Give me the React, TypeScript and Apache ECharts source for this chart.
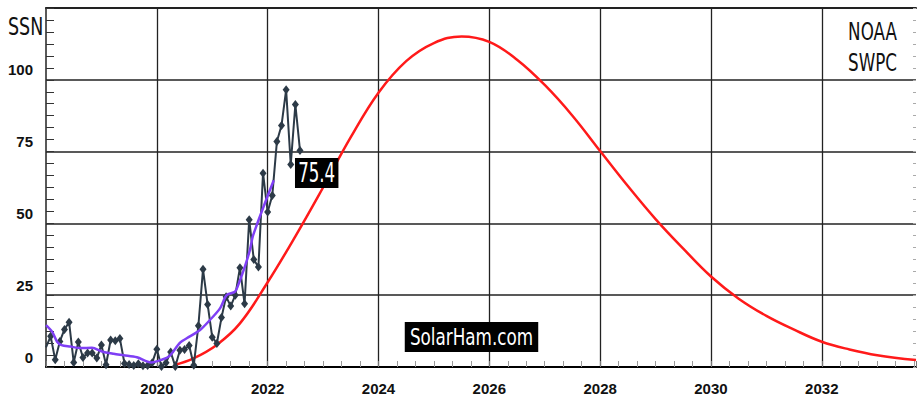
import React, { useEffect, useRef } from "react";
import * as echarts from "echarts";

// Monthly sunspot numbers, starting January 2018
const ssnStartYear = 2018;
const monthlySSN = [
  6.8, 10.7, 2.5, 8.9, 13.1, 15.6, 1.6, 8.7, 3.3, 4.9, 4.9, 3.1,
  7.7, 0.8, 9.4, 9.1, 9.9, 1.2, 0.9, 0.5, 1.1, 0.4, 0.5, 1.5,
  6.2, 0.2, 1.5, 5.2, 0.2, 5.8, 6.1, 7.5, 0.6, 14.4, 34.0, 21.8,
  10.4, 8.2, 17.2, 24.5, 21.2, 25.0, 34.6, 22.0, 51.3, 37.4, 34.8, 67.5,
  54.0, 59.7, 78.5, 84.1, 96.5, 70.5, 91.4, 75.4,
];

// Smoothed sunspot number (purple)
const smoothYears = [
  2018.0, 2018.11, 2018.2, 2018.28, 2018.44, 2018.62, 2018.83, 2019.01, 2019.22,
  2019.4, 2019.64, 2019.9, 2020.1, 2020.23, 2020.42, 2020.54, 2020.78, 2020.96,
  2021.14, 2021.26, 2021.41, 2021.47, 2021.59, 2021.68, 2021.74, 2022.11,
];
const smoothValues = [
  14.6, 12.3, 8.8, 7.6, 7.1, 6.6, 6.7, 5.4, 4.6,
  4.1, 3.4, 1.6, 2.6, 3.9, 8.5, 10, 12.9, 16.4,
  20.4, 25, 26.2, 28.6, 35, 40.8, 46, 65,
];

// NOAA SWPC predicted cycle (red)
const predYears = [
  2020.32, 2020.66, 2021.08, 2021.5, 2022.0, 2022.5, 2023.0, 2023.5,
  2024.0, 2024.5, 2025.0, 2025.5, 2026.0, 2026.5, 2027.0, 2027.5, 2028.0,
  2028.5, 2029.0, 2029.5, 2030.0, 2030.5, 2031.0, 2031.5, 2032.0, 2032.5, 2033.0, 2033.7,
];
const predValues = [
  0.7, 3, 7.7, 15.2, 29.5, 45.5, 62.5, 80,
  95.5, 106.5, 112.8, 115.1, 113.2, 107, 98.2, 87.5, 75.2,
  63, 51.5, 41.2, 31.5, 23.8, 17.8, 13, 8.8, 6.1, 4.1, 2.4,
];

const xTickYears = [2020, 2022, 2024, 2026, 2028, 2030, 2032];
const yTicks = [0, 25, 50, 75, 100];

const LABEL_FONT = "'Liberation Sans', Arial, sans-serif";
const TEXT_FONT = "'DejaVu Sans', sans-serif";

export default function App() {
  const ref = useRef<HTMLDivElement>(null);

  useEffect(() => {
    if (!ref.current) return;
    const chart = echarts.init(ref.current, undefined, { renderer: "svg" });

    const ssnData: any[] = monthlySSN.map((v, i) => {
      const item: any = { value: [ssnStartYear + i / 12, v] };
      if (i === 0) item.symbol = "none";
      return item;
    });

    const option: any = {
      animation: false,
      backgroundColor: "#fff",
      grid: { left: 46, right: 2, top: 8, bottom: 33 },
      xAxis: [
        {
          type: "value",
          min: 2018,
          max: 2033.7,
          interval: 2,
          axisLine: { show: true, onZero: false, lineStyle: { color: "#000", width: 2 } },
          axisTick: { show: true, inside: true, length: 6, lineStyle: { color: "#777" } },
          minorTick: { show: true, splitNumber: 6, length: 6, lineStyle: { color: "#999" } },
          axisLabel: {
            formatter: (v: number) => {
              const r = Math.round(v);
              return Math.abs(v - r) < 1e-6 && xTickYears.includes(r) ? String(r) : "";
            },
            fontFamily: LABEL_FONT,
            fontWeight: "bold",
            fontSize: 15,
            color: "#111",
            margin: 14,
            showMinLabel: false,
            showMaxLabel: false,
          },
          splitLine: {
            show: true,
            showMinLine: false,
            showMaxLine: false,
            lineStyle: { color: "#222", width: 1.3 },
          },
        },
        {
          type: "value",
          position: "top",
          min: 2018,
          max: 2033.7,
          axisLine: { show: true, onZero: false, lineStyle: { color: "#222", width: 2 } },
          axisTick: { show: false },
          axisLabel: { show: false },
          splitLine: { show: false },
        },
      ],
      yAxis: [
        {
          type: "value",
          min: 0,
          max: 125,
          interval: 25,
          axisLine: { show: true, lineStyle: { color: "#222", width: 1.5 } },
          axisTick: { show: true, inside: true, length: 8, lineStyle: { color: "#333" } },
          minorTick: { show: true, splitNumber: 6, length: 8, lineStyle: { color: "#333", width: 1 } },
          axisLabel: {
            formatter: (v: number) => (yTicks.includes(v) ? String(v) : ""),
            fontFamily: LABEL_FONT,
            fontWeight: "bold",
            fontSize: 15,
            color: "#111",
            margin: 13,
            verticalAlign: "bottom",
            lineHeight: 20,
            showMaxLabel: false,
          },
          splitLine: { show: true, lineStyle: { color: "#222", width: 1.5 } },
        },
        {
          type: "value",
          position: "right",
          min: 0,
          max: 125,
          interval: 25,
          axisLine: { show: false },
          axisTick: { show: true, inside: true, length: 3, lineStyle: { color: "#aaa" } },
          minorTick: { show: true, splitNumber: 6, length: 3, lineStyle: { color: "#aaa" } },
          axisLabel: { show: false },
          splitLine: { show: false },
        },
      ],
      series: [
        {
          name: "Predicted",
          type: "line",
          xAxisIndex: 0,
          yAxisIndex: 0,
          data: predYears.map((y, i) => [y, predValues[i]]),
          smooth: 0.4,
          showSymbol: false,
          symbol: "none",
          lineStyle: { color: "#ff1a1a", width: 2.5 },
          z: 2,
        },
        {
          name: "Monthly SSN",
          type: "line",
          xAxisIndex: 0,
          yAxisIndex: 0,
          data: ssnData,
          symbol: "diamond",
          symbolSize: [7, 9],
          itemStyle: { color: "#2c3a47" },
          lineStyle: { color: "#2c3a47", width: 2 },
          z: 3,
        },
        {
          name: "Smoothed",
          type: "line",
          xAxisIndex: 0,
          yAxisIndex: 0,
          data: smoothYears.map((y, i) => [y, smoothValues[i]]),
          smooth: 0.3,
          showSymbol: false,
          symbol: "none",
          lineStyle: { color: "#7f3ff5", width: 2.5 },
          z: 4,
        },
      ],
    };

    chart.setOption(option);

    // Label for the latest monthly value, placed through the chart's own scales
    const lastIdx = monthlySSN.length - 1;
    const lastVal = monthlySSN[lastIdx];
    const p = chart.convertToPixel({ gridIndex: 0 }, [ssnStartYear + lastIdx / 12, lastVal]) as number[];

    chart.setOption({
      graphic: [
        {
          type: "text",
          x: 8,
          y: 14,
          scaleX: 0.7,
          style: { text: "SSN", fontFamily: TEXT_FONT, fontSize: 25, fill: "#111", verticalAlign: "top" },
        },
        {
          type: "text",
          x: 872.5,
          y: 16,
          scaleX: 0.67,
          style: {
            text: "NOAA\nSWPC",
            fontFamily: TEXT_FONT,
            fontSize: 25,
            lineHeight: 31,
            fill: "#111",
            align: "center",
            verticalAlign: "top",
          },
        },
        {
          type: "text",
          x: 471.5,
          y: 337,
          scaleX: 0.73,
          z: 10,
          style: {
            text: "SolarHam.com",
            fontFamily: TEXT_FONT,
            fontSize: 23,
            lineHeight: 24,
            fill: "#fff",
            backgroundColor: "#000",
            padding: [3, 7, 3, 7],
            align: "center",
            verticalAlign: "middle",
          },
        },
        {
          type: "text",
          x: p[0] - 5,
          y: p[1] + 7.5,
          scaleX: 0.64,
          z: 10,
          style: {
            text: String(lastVal),
            fontFamily: TEXT_FONT,
            fontSize: 26,
            lineHeight: 24,
            fill: "#fff",
            backgroundColor: "#000",
            padding: [3, 5, 3, 5],
            align: "left",
            verticalAlign: "top",
          },
        },
      ],
    });

    return () => chart.dispose();
  }, []);

  return <div ref={ref} style={{ width: 918, height: 400, position: "absolute", left: 0, top: 0 }} />;
}
